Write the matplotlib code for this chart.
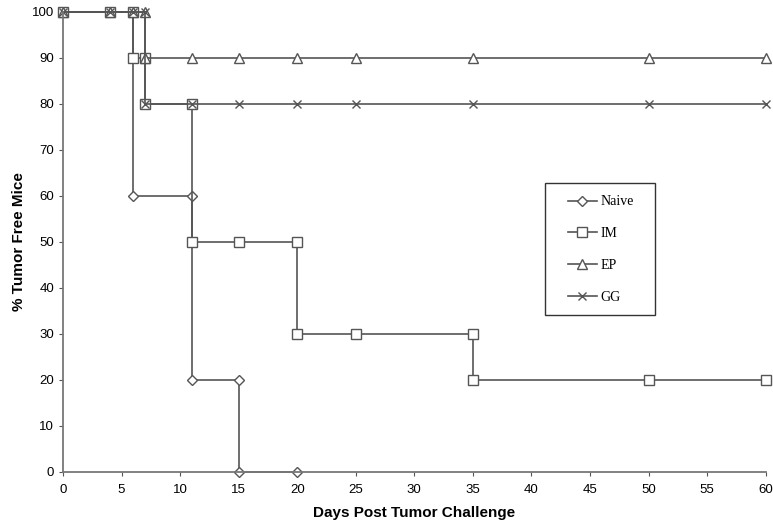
import matplotlib
matplotlib.use("Agg")
import matplotlib.pyplot as plt
from matplotlib.patches import Rectangle

# Kaplan-Meier style step data (days, % tumor free)
naive_days = [0, 4, 6, 6, 11, 11, 15, 15, 20]
naive_pct = [100, 100, 100, 60, 60, 20, 20, 0, 0]

im_days = [0, 4, 6, 6, 7, 7, 11, 11, 15, 20, 20, 25, 35, 35, 50, 60]
im_pct = [100, 100, 100, 90, 90, 80, 80, 50, 50, 50, 30, 30, 30, 20, 20, 20]

ep_days = [0, 4, 6, 7, 7, 11, 15, 20, 25, 35, 50, 60]
ep_pct = [100, 100, 100, 100, 90, 90, 90, 90, 90, 90, 90, 90]

gg_days = [0, 4, 6, 7, 7, 11, 15, 20, 25, 35, 50, 60]
gg_pct = [100, 100, 100, 100, 80, 80, 80, 80, 80, 80, 80, 80]

line_col = "#555555"

fig = plt.figure(figsize=(7.73, 5.27), dpi=100)
ax = fig.add_axes([0.0815, 0.1044, 0.909, 0.873])

ax.plot(naive_days, naive_pct, color=line_col, lw=1.2, marker="D", ms=5.5,
        mfc="white", mec=line_col, mew=1, label="Naive")
ax.plot(im_days, im_pct, color=line_col, lw=1.2, marker="s", ms=7,
        mfc="white", mec=line_col, mew=1, label="IM")
ax.plot(ep_days, ep_pct, color=line_col, lw=1.2, marker="^", ms=7.5,
        mfc="white", mec=line_col, mew=1, label="EP")
ax.plot(gg_days, gg_pct, color=line_col, lw=1.2, marker="x", ms=6,
        mec=line_col, mew=1, label="GG")

ax.set_xlim(0, 60)
ax.set_ylim(0, 100)
ax.set_xticks(range(0, 61, 5))
ax.set_yticks(range(0, 101, 10))
ax.spines["top"].set_visible(False)
ax.spines["right"].set_visible(False)
ax.spines["left"].set_color("#777777")
ax.spines["bottom"].set_color("#777777")
ax.spines["left"].set_linewidth(1.3)
ax.spines["bottom"].set_linewidth(1.3)
ax.tick_params(length=3, color="#555555", labelsize=9.5)
ax.tick_params(axis="y", pad=3.5)
ax.tick_params(axis="x", pad=6)
for lab in ax.get_xticklabels() + ax.get_yticklabels():
    lab.set_family("Liberation Sans")
for ln in ax.lines:
    ln.set_clip_on(False)

ax.set_xlabel("Days Post Tumor Challenge", fontsize=11, fontweight="bold",
              family="Liberation Sans", labelpad=7)
ax.set_ylabel("% Tumor Free Mice", fontsize=11, fontweight="bold",
              family="Liberation Sans", labelpad=4)

# legend box drawn separately so the padding matches the original
ax.add_patch(Rectangle((0.686, 0.341), 0.157, 0.287, transform=ax.transAxes,
                       fill=True, facecolor="white", edgecolor="#333333",
                       lw=1, zorder=4, clip_on=False))
leg = ax.legend(loc="upper left", bbox_to_anchor=(0.718, 0.601),
                prop={"family": "Liberation Serif", "size": 10},
                labelspacing=1.35, handlelength=2.1, borderpad=0,
                borderaxespad=0, frameon=False, handletextpad=0.25)
leg.set_zorder(5)

fig.savefig("out.png", dpi=100)
